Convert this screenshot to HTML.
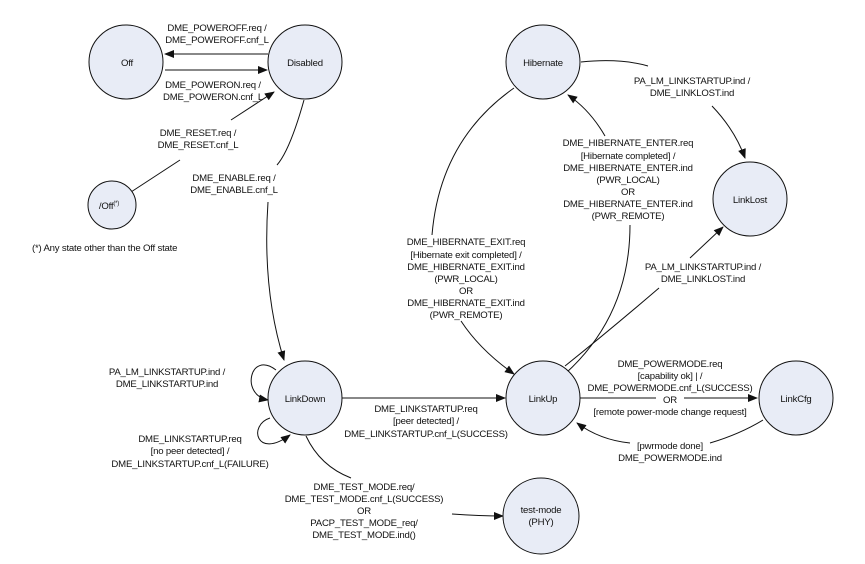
<!DOCTYPE html>
<html><head><meta charset="utf-8"><style>
html,body{margin:0;padding:0;background:#fff;}
svg{display:block;}
text{font-family:"Liberation Sans",Arial,sans-serif;font-size:9.6px;fill:#111;text-anchor:middle;letter-spacing:-0.2px;}
circle{fill:#e8ecf6;stroke:#111;stroke-width:1;}
path,line{fill:none;stroke:#111;stroke-width:1;}
</style></head><body>
<svg width="865" height="564" viewBox="0 0 865 564" xmlns="http://www.w3.org/2000/svg">
<defs><marker id="a" markerWidth="10" markerHeight="8" refX="9" refY="4" orient="auto" markerUnits="userSpaceOnUse"><path d="M0,0 L10,4 L0,8 z" style="fill:#111;stroke:none"/></marker></defs>

<line x1="268" y1="54" x2="165" y2="54" marker-end="url(#a)"/>
<line x1="165" y1="70" x2="267" y2="70" marker-end="url(#a)"/>
<line x1="131" y1="192" x2="180" y2="160"/>
<line x1="231" y1="120" x2="274" y2="92" marker-end="url(#a)"/>
<path d="M304,100 Q290,150 277,165"/>
<path d="M268,202 Q262,290 284,360" marker-end="url(#a)"/>
<path d="M276,370 C250,350 240,395 268,400" marker-end="url(#a)"/>
<path d="M270,418 C248,425 256,460 290,435" marker-end="url(#a)"/>
<line x1="342" y1="398" x2="505" y2="398" marker-end="url(#a)"/>
<path d="M306,436 Q320,466 351,478"/>
<path d="M452,514 Q480,516 503,516" marker-end="url(#a)"/>
<path d="M514,88 Q440,140 432,235"/>
<path d="M461,321 Q480,350 514,374" marker-end="url(#a)"/>
<path d="M558,380 Q630,320 630,225"/>
<path d="M605,136 Q590,110 568,95" marker-end="url(#a)"/>
<path d="M581,62 Q620,58 648,66"/>
<path d="M712,106 Q735,130 745,158" marker-end="url(#a)"/>
<path d="M565,366 Q610,330 659,288"/>
<line x1="690" y1="258" x2="723" y2="227" marker-end="url(#a)"/>
<line x1="580" y1="398" x2="656" y2="398"/>
<line x1="684" y1="398" x2="757" y2="398" marker-end="url(#a)"/>
<path d="M763,420 Q740,434 710,443"/>
<path d="M630,443 Q600,440 577,423" marker-end="url(#a)"/>

<circle cx="126" cy="62" r="37"/>
<circle cx="305" cy="62" r="37"/>
<circle cx="112" cy="205" r="24"/>
<circle cx="543" cy="62" r="37"/>
<circle cx="750" cy="199" r="37"/>
<circle cx="305" cy="398" r="37"/>
<circle cx="543" cy="398" r="37"/>
<circle cx="796" cy="398" r="37"/>
<circle cx="541" cy="516" r="38"/>

<text x="127" y="66">Off</text>
<text x="305" y="66">Disabled</text>
<text x="109" y="209">/Off<tspan dy="-4" font-size="6">(*)</tspan></text>
<text x="543" y="66">Hibernate</text>
<text x="750" y="203">LinkLost</text>
<text x="305" y="402">LinkDown</text>
<text x="543" y="402">LinkUp</text>
<text x="796" y="402">LinkCfg</text>
<text x="541" y="513">test-mode</text>
<text x="541" y="525">(PHY)</text>

<text x="217" y="31">DME_POWEROFF.req /</text>
<text x="217" y="43">DME_POWEROFF.cnf_L</text>
<text x="213" y="88">DME_POWERON.req /</text>
<text x="213" y="100">DME_POWERON.cnf_L</text>
<text x="198" y="136">DME_RESET.req /</text>
<text x="198" y="148">DME_RESET.cnf_L</text>
<text x="234" y="181">DME_ENABLE.req /</text>
<text x="234" y="193">DME_ENABLE.cnf_L</text>
<text x="32" y="251" style="text-anchor:start">(*) Any state other than the Off state</text>
<text x="167" y="375">PA_LM_LINKSTARTUP.ind /</text>
<text x="167" y="387">DME_LINKSTARTUP.ind</text>
<text x="190" y="442">DME_LINKSTARTUP.req</text>
<text x="190" y="454">[no peer detected] /</text>
<text x="190" y="467">DME_LINKSTARTUP.cnf_L(FAILURE)</text>
<text x="426" y="412">DME_LINKSTARTUP.req</text>
<text x="426" y="424">[peer detected] /</text>
<text x="426" y="437">DME_LINKSTARTUP.cnf_L(SUCCESS)</text>
<text x="364" y="490">DME_TEST_MODE.req/</text>
<text x="364" y="502">DME_TEST_MODE.cnf_L(SUCCESS)</text>
<text x="364" y="514">OR</text>
<text x="364" y="526">PACP_TEST_MODE_req/</text>
<text x="364" y="538">DME_TEST_MODE.ind()</text>
<text x="466" y="245">DME_HIBERNATE_EXIT.req</text>
<text x="466" y="258">[Hibernate exit completed] /</text>
<text x="466" y="270">DME_HIBERNATE_EXIT.ind</text>
<text x="466" y="282">(PWR_LOCAL)</text>
<text x="466" y="294">OR</text>
<text x="466" y="306">DME_HIBERNATE_EXIT.ind</text>
<text x="466" y="318">(PWR_REMOTE)</text>
<text x="628" y="146">DME_HIBERNATE_ENTER.req</text>
<text x="628" y="159">[Hibernate completed] /</text>
<text x="628" y="171">DME_HIBERNATE_ENTER.ind</text>
<text x="628" y="183">(PWR_LOCAL)</text>
<text x="628" y="195">OR</text>
<text x="628" y="207">DME_HIBERNATE_ENTER.ind</text>
<text x="628" y="219">(PWR_REMOTE)</text>
<text x="692" y="84">PA_LM_LINKSTARTUP.ind /</text>
<text x="692" y="96">DME_LINKLOST.ind</text>
<text x="703" y="270">PA_LM_LINKSTARTUP.ind /</text>
<text x="703" y="282">DME_LINKLOST.ind</text>
<text x="670" y="367">DME_POWERMODE.req</text>
<text x="670" y="379">[capability ok] | /</text>
<text x="670" y="391">DME_POWERMODE.cnf_L(SUCCESS)</text>
<text x="670" y="403">OR</text>
<text x="670" y="415">[remote power-mode change request]</text>
<text x="670" y="449">[pwrmode done]</text>
<text x="670" y="461">DME_POWERMODE.ind</text>
</svg>
</body></html>
